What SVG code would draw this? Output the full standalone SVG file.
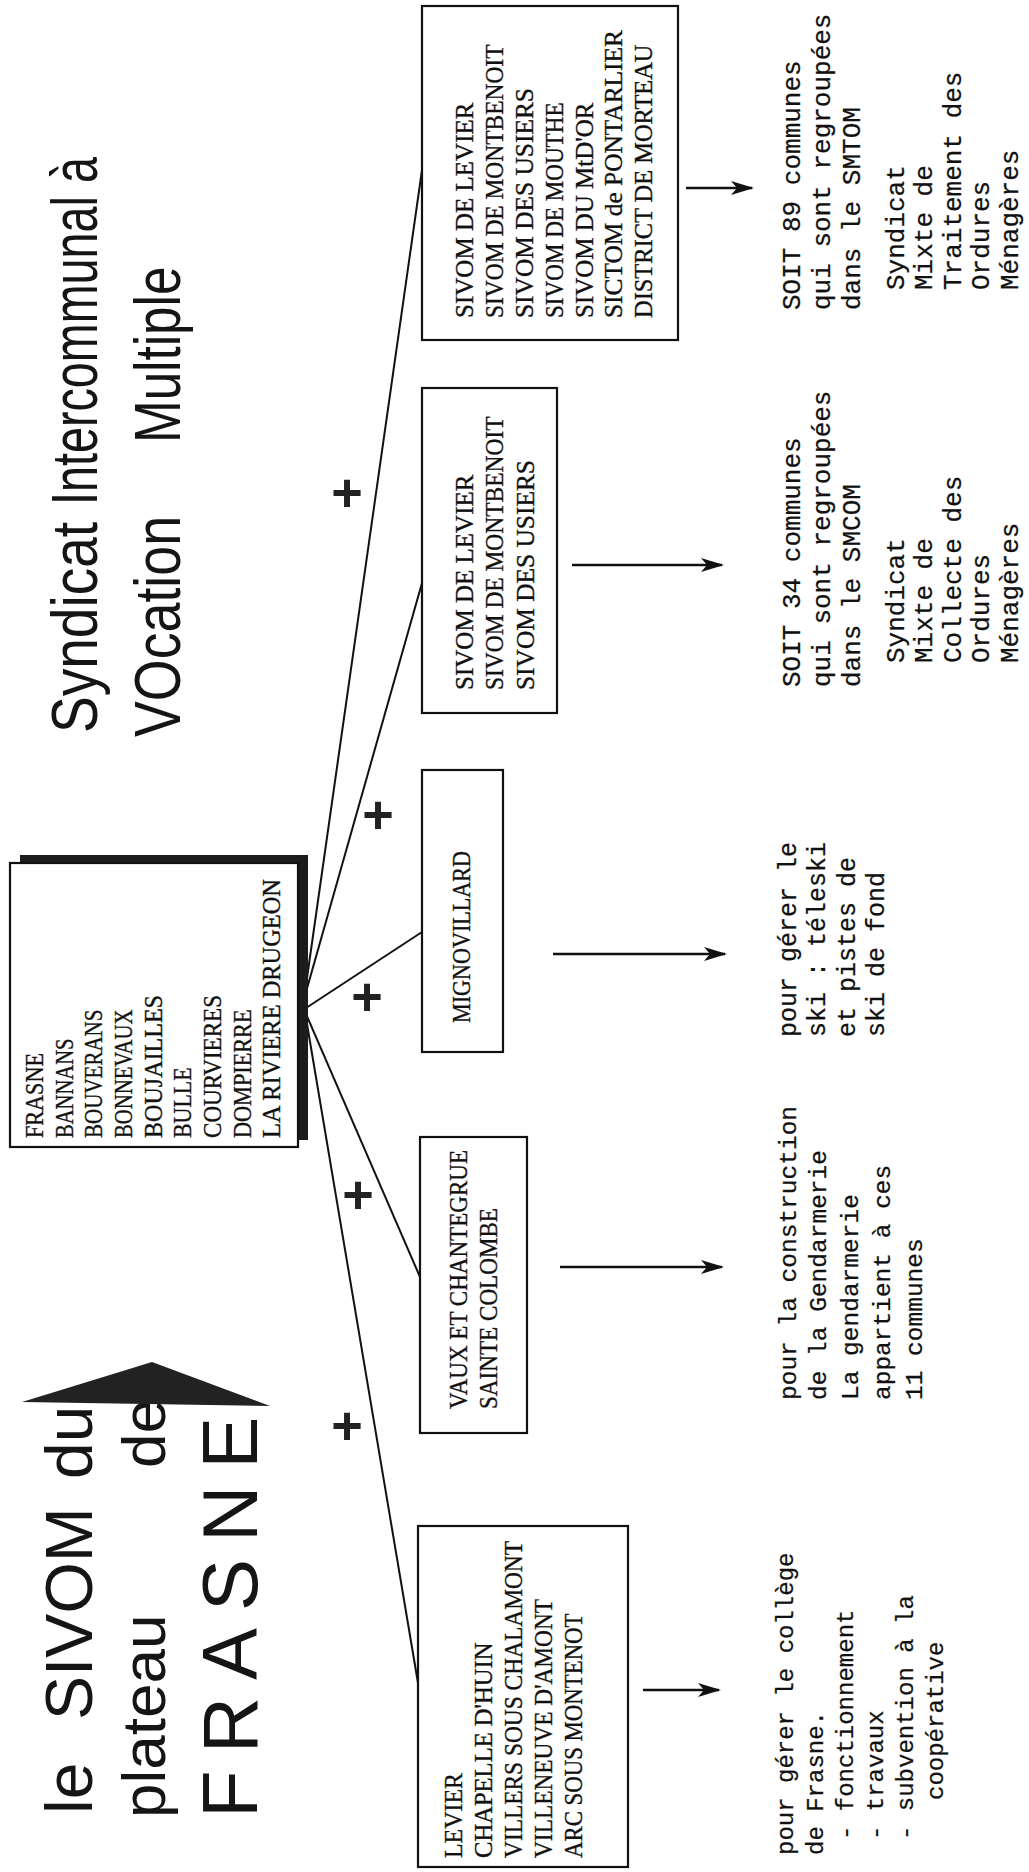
<svg xmlns="http://www.w3.org/2000/svg" width="1029" height="1872" viewBox="0 0 1029 1872">
<style>
.box{fill:#fff;stroke:#111;stroke-width:2.2}
.cap{font-family:"Liberation Serif",serif;font-size:26px;fill:#111;stroke:#111;stroke-width:0.35}
.mono{font-family:"Liberation Mono",monospace;fill:#111;stroke:#111;stroke-width:0.25}
.m26{font-size:26px}
.m25{font-size:25px}
.m24{font-size:24.5px}
.ttl{font-family:"Liberation Sans",Arial,sans-serif;fill:#151515}
.conn{stroke:#111;stroke-width:2;fill:none}
.arr{stroke:#111;stroke-width:2.4;fill:none;marker-end:url(#ah)}
.plus{font-family:"Liberation Sans",Arial,sans-serif;font-weight:bold;font-size:54px;fill:#222;text-anchor:middle}
</style>
<defs>
<marker id="ah" markerWidth="24" markerHeight="16" refX="21" refY="8" orient="auto" markerUnits="userSpaceOnUse">
<path d="M0,1 L23,8 L0,15 L6,8 z" fill="#111"/>
</marker>
</defs>
<rect x="0" y="0" width="1029" height="1872" fill="#fff"/>

<g id="title-top">
<text class="ttl" font-size="64" transform="translate(97,733) rotate(-90) scale(0.86,1)">Syndicat</text>
<text class="ttl" font-size="64" transform="translate(97,505) rotate(-90) scale(0.73,1)">Intercommunal à</text>
<text class="ttl" font-size="64" transform="translate(180,737) rotate(-90) scale(0.84,1)">VOcation</text>
<text class="ttl" font-size="64" transform="translate(180,443) rotate(-90) scale(0.80,1)">Multiple</text>
</g>

<g id="title-bottom">
<text class="ttl" font-size="66" transform="translate(92,1814) rotate(-90)">le</text>
<text class="ttl" font-size="66" transform="translate(92,1720) rotate(-90)">SIVOM</text>
<text class="ttl" font-size="66" transform="translate(92,1479) rotate(-90)">du</text>
<text class="ttl" font-size="62" transform="translate(165,1818) rotate(-90)">plateau</text>
<text class="ttl" font-size="62" transform="translate(165,1468) rotate(-90)">de</text>
<text class="ttl" font-size="78" transform="translate(257,1818) rotate(-90)" letter-spacing="17">FRASNE</text>
<polygon points="22,1402 152,1362 270,1406" fill="#222"/>
</g>

<g id="connectors">
<line class="conn" x1="306" y1="985" x2="422" y2="170"/>
<line class="conn" x1="306" y1="992" x2="422" y2="583"/>
<line class="conn" x1="306" y1="1008" x2="422" y2="932"/>
<line class="conn" x1="306" y1="1014" x2="420" y2="1277"/>
<line class="conn" x1="306" y1="1018" x2="418" y2="1683"/>
<line class="arr" x1="686" y1="188" x2="752" y2="188"/>
<line class="arr" x1="572" y1="565" x2="722" y2="565"/>
<line class="arr" x1="553" y1="954" x2="725" y2="954"/>
<line class="arr" x1="560" y1="1267" x2="722" y2="1267"/>
<line class="arr" x1="643" y1="1690" x2="719" y2="1690"/>
</g>

<g id="plus-marks">
<text class="plus" x="347" y="511">+</text>
<text class="plus" x="378" y="833">+</text>
<text class="plus" x="367" y="1015">+</text>
<text class="plus" x="358" y="1213">+</text>
<text class="plus" x="347" y="1444">+</text>
</g>

<g id="node-central">
<rect x="20" y="855" width="288" height="285" fill="#1c1c1c"/>
<rect class="box" x="10" y="863" width="288" height="284"/>
<text class="cap" transform="translate(43,1138) rotate(-90)" textLength="85" lengthAdjust="spacingAndGlyphs">FRASNE</text>
<text class="cap" transform="translate(73,1138) rotate(-90)" textLength="99.5" lengthAdjust="spacingAndGlyphs">BANNANS</text>
<text class="cap" transform="translate(102,1138) rotate(-90)" textLength="128.5" lengthAdjust="spacingAndGlyphs">BOUVERANS</text>
<text class="cap" transform="translate(132,1138) rotate(-90)" textLength="128.5" lengthAdjust="spacingAndGlyphs">BONNEVAUX</text>
<text class="cap" transform="translate(162,1138) rotate(-90)" textLength="143" lengthAdjust="spacingAndGlyphs">BOUJAILLES</text>
<text class="cap" transform="translate(191,1138) rotate(-90)" textLength="70.5" lengthAdjust="spacingAndGlyphs">BULLE</text>
<text class="cap" transform="translate(221,1138) rotate(-90)" textLength="143" lengthAdjust="spacingAndGlyphs">COURVIERES</text>
<text class="cap" transform="translate(251,1138) rotate(-90)" textLength="128.5" lengthAdjust="spacingAndGlyphs">DOMPIERRE</text>
<text class="cap" transform="translate(280,1138) rotate(-90)" textLength="259" lengthAdjust="spacingAndGlyphs">LA RIVIERE DRUGEON</text>
</g>

<g id="node-smtom-members">
<rect class="box" x="422" y="6" width="256" height="334"/>
<text class="cap" transform="translate(473,318) rotate(-90)" textLength="215.5" lengthAdjust="spacingAndGlyphs">SIVOM DE LEVIER</text>
<text class="cap" transform="translate(503,318) rotate(-90)" textLength="273.5" lengthAdjust="spacingAndGlyphs">SIVOM DE MONTBENOIT</text>
<text class="cap" transform="translate(533,318) rotate(-90)" textLength="230" lengthAdjust="spacingAndGlyphs">SIVOM DES USIERS</text>
<text class="cap" transform="translate(563,318) rotate(-90)" textLength="215.5" lengthAdjust="spacingAndGlyphs">SIVOM DE MOUTHE</text>
<text class="cap" transform="translate(593,318) rotate(-90)" textLength="215.5" lengthAdjust="spacingAndGlyphs">SIVOM DU MtD'OR</text>
<text class="cap" transform="translate(622,318) rotate(-90)" textLength="288" lengthAdjust="spacingAndGlyphs">SICTOM de PONTARLIER</text>
<text class="cap" transform="translate(652,318) rotate(-90)" textLength="273.5" lengthAdjust="spacingAndGlyphs">DISTRICT DE MORTEAU</text>
</g>

<g id="node-smcom-members">
<rect class="box" x="422" y="388" width="135" height="325"/>
<text class="cap" transform="translate(473,690) rotate(-90)" textLength="215.5" lengthAdjust="spacingAndGlyphs">SIVOM DE LEVIER</text>
<text class="cap" transform="translate(503,690) rotate(-90)" textLength="273.5" lengthAdjust="spacingAndGlyphs">SIVOM DE MONTBENOIT</text>
<text class="cap" transform="translate(534,690) rotate(-90)" textLength="230" lengthAdjust="spacingAndGlyphs">SIVOM DES USIERS</text>
</g>

<g id="node-mignovillard">
<rect class="box" x="422" y="770" width="81" height="282"/>
<text class="cap" transform="translate(470,1023) rotate(-90)" textLength="172" lengthAdjust="spacingAndGlyphs">MIGNOVILLARD</text>
</g>

<g id="node-vaux">
<rect class="box" x="420" y="1137" width="107" height="296"/>
<text class="cap" transform="translate(467,1409) rotate(-90)" textLength="259" lengthAdjust="spacingAndGlyphs">VAUX ET CHANTEGRUE</text>
<text class="cap" transform="translate(497,1409) rotate(-90)" textLength="201" lengthAdjust="spacingAndGlyphs">SAINTE COLOMBE</text>
</g>

<g id="node-levier">
<rect class="box" x="418" y="1526" width="210" height="341"/>
<text class="cap" transform="translate(462,1858) rotate(-90)" textLength="85" lengthAdjust="spacingAndGlyphs">LEVIER</text>
<text class="cap" transform="translate(492,1858) rotate(-90)" textLength="215.5" lengthAdjust="spacingAndGlyphs">CHAPELLE D'HUIN</text>
<text class="cap" transform="translate(522,1858) rotate(-90)" textLength="317" lengthAdjust="spacingAndGlyphs">VILLERS SOUS CHALAMONT</text>
<text class="cap" transform="translate(552,1858) rotate(-90)" textLength="259" lengthAdjust="spacingAndGlyphs">VILLENEUVE D'AMONT</text>
<text class="cap" transform="translate(582,1858) rotate(-90)" textLength="244.5" lengthAdjust="spacingAndGlyphs">ARC SOUS MONTENOT</text>
</g>

<g id="desc-smtom" class="mono m26" xml:space="preserve">
<text transform="translate(800,310) rotate(-90)">SOIT  89 communes</text>
<text transform="translate(830,310) rotate(-90)">qui sont regroupées</text>
<text transform="translate(860,310) rotate(-90)">dans le SMTOM</text>
<text transform="translate(904,290) rotate(-90)">Syndicat</text>
<text transform="translate(932,290) rotate(-90)">Mixte de</text>
<text transform="translate(961,290) rotate(-90)">Traitement des</text>
<text transform="translate(989,290) rotate(-90)">Ordures</text>
<text transform="translate(1018,290) rotate(-90)">Ménagères</text>
</g>

<g id="desc-smcom" class="mono m26" xml:space="preserve">
<text transform="translate(800,687) rotate(-90)">SOIT  34 communes</text>
<text transform="translate(830,687) rotate(-90)">qui sont regroupées</text>
<text transform="translate(860,687) rotate(-90)">dans le SMCOM</text>
<text transform="translate(904,663) rotate(-90)">Syndicat</text>
<text transform="translate(932,663) rotate(-90)">Mixte de</text>
<text transform="translate(961,663) rotate(-90)">Collecte des</text>
<text transform="translate(989,663) rotate(-90)">Ordures</text>
<text transform="translate(1018,663) rotate(-90)">Ménagères</text>
</g>

<g id="desc-ski" class="mono m25">
<text transform="translate(796,1037) rotate(-90)">pour gérer le</text>
<text transform="translate(825,1037) rotate(-90)">ski : téleski</text>
<text transform="translate(855,1037) rotate(-90)">et pistes de</text>
<text transform="translate(884,1037) rotate(-90)">ski de fond</text>
</g>

<g id="desc-gendarmerie" class="mono m24">
<text transform="translate(796,1400) rotate(-90)">pour la construction</text>
<text transform="translate(826,1400) rotate(-90)">de la Gendarmerie</text>
<text transform="translate(858,1400) rotate(-90)">La gendarmerie</text>
<text transform="translate(890,1400) rotate(-90)">appartient à ces</text>
<text transform="translate(922,1400) rotate(-90)">11 communes</text>
</g>

<g id="desc-college" class="mono" font-size="24">
<text transform="translate(793,1855) rotate(-90)">pour gérer le collège</text>
<text transform="translate(823,1855) rotate(-90)">de Frasne.</text>
<text transform="translate(853,1840) rotate(-90)">- fonctionnement</text>
<text transform="translate(883,1840) rotate(-90)">- travaux</text>
<text transform="translate(913,1840) rotate(-90)">- subvention à la</text>
<text transform="translate(943,1800) rotate(-90)">coopérative</text>
</g>
</svg>
